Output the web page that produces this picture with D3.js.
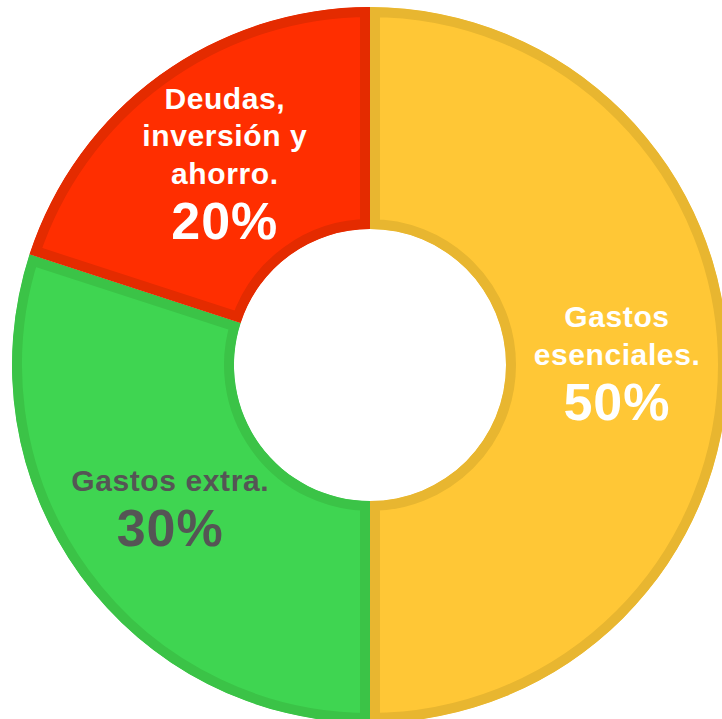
<!DOCTYPE html>
<html>
<head>
<meta charset="utf-8">
<script src="https://cdn.jsdelivr.net/npm/d3@7"></script>
<style>
  html, body { margin: 0; padding: 0; background: #ffffff; overflow: hidden; }
  svg { display: block; }
  .label { font-family: "Liberation Sans", Arial, sans-serif; font-weight: bold; text-anchor: middle; }
</style>
</head>
<body>
<div id="chart"></div>
<script>
// Chart data
const categories = ["Gastos esenciales.", "Gastos extra.", "Deudas, inversión y ahorro."];
const values = [50, 30, 20];
const labelLines = [["Gastos", "esenciales."], ["Gastos extra."], ["Deudas,", "inversión y", "ahorro."]];
const fillColors = ["#ffc736", "#3fd551", "#ff2e00"];
const edgeColors = ["#e8b630", "#3bc347", "#e42b00"];
const textColors = ["#ffffff", "#555555", "#ffffff"];

const width = 722, height = 719;
const cx = 370, cy = 365;
const outerR = 358, innerR = 136;
const edge = 10;

const svg = d3.select('#chart')
    .append('svg')
    .attr('width', width)
    .attr('height', height);

const g = svg.append('g')
    .attr('transform', `translate(${cx},${cy})`);

const pie = d3.pie().sort(null).value(d => d);
const arc = d3.arc().innerRadius(innerR).outerRadius(outerR);
const slices = pie(values);

// clip paths so the darker edge sits inside each slice
const defs = svg.append('defs');
slices.forEach((d, i) => {
    defs.append('clipPath')
        .attr('id', 'clip-' + i)
        .append('path')
        .attr('d', arc(d));
});

const sliceG = g.selectAll('.slice')
    .data(slices)
    .enter()
    .append('g')
    .attr('class', 'slice');

sliceG.append('path')
    .attr('d', arc)
    .attr('fill', (d, i) => fillColors[i])
    .attr('stroke', (d, i) => edgeColors[i])
    .attr('stroke-width', edge * 2)
    .attr('stroke-linejoin', 'miter')
    .attr('clip-path', (d, i) => `url(#clip-${i})`);

// Labels centred on each slice centroid
const lineGap = 37.5, pctGap = 55, capH = 21;
slices.forEach((d, i) => {
    const [x, y] = arc.centroid(d);
    const lines = labelLines[i];
    const y0 = y - 2 - ((lines.length - 1) * lineGap + pctGap - capH) / 2;
    const t = g.append('g').attr('fill', textColors[i]);
    lines.forEach((ln, j) => {
        t.append('text')
            .attr('class', 'label')
            .attr('x', x)
            .attr('y', y0 + j * lineGap)
            .style('font-size', '30px')
            .style('letter-spacing', '0.6px')
            .text(ln);
    });
    t.append('text')
        .attr('class', 'label')
        .attr('x', x)
        .attr('y', y0 + (lines.length - 1) * lineGap + pctGap)
        .style('font-size', '52px')
        .style('letter-spacing', '1px')
        .text(values[i] + '%');
});
</script>
</body>
</html>
